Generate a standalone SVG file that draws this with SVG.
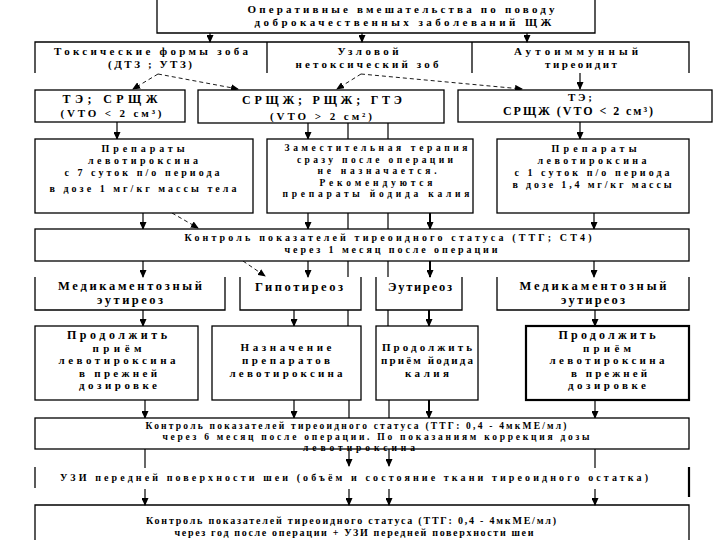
<svg xmlns="http://www.w3.org/2000/svg" width="720" height="540" viewBox="0 0 720 540">
<style>
text{font-family:"Liberation Serif","Times New Roman",serif;font-weight:bold;text-anchor:middle;fill:#000}
.s9{font-size:9.5px}.s10{font-size:10px}.s11{font-size:11px}.s12{font-size:12px}.s13{font-size:12.5px}
.n{fill:#fff;stroke:#000;stroke-width:1.3}
.o{fill:none;stroke:#000;stroke-width:1.3}
.th{stroke-width:2.2}
.c{stroke:#000;stroke-width:1.2;fill:none}
.a{marker-end:url(#ah)}
.d{stroke-dasharray:4 3;stroke-width:0.9;marker-end:url(#ah)}
.k{stroke-width:2}
</style>
<defs>
<marker id="ah" markerWidth="8" markerHeight="7" refX="7" refY="3.5" orient="auto" markerUnits="userSpaceOnUse">
<path d="M0,0 L8,3.5 L0,7 Z" fill="#000"/>
</marker>
</defs>
<rect width="720" height="540" fill="#fff"/>

<g id="connectors">
<line class="c a" x1="210" y1="33" x2="210" y2="42"/>
<line class="c a" x1="362" y1="33" x2="362" y2="42"/>
<line class="c a" x1="527" y1="33" x2="527" y2="42"/>
<line class="c d" x1="158" y1="74" x2="133" y2="89"/>
<line class="c d" x1="158" y1="74" x2="238" y2="89"/>
<line class="c d" x1="361" y1="74" x2="337" y2="89"/>
<line class="c d" x1="361" y1="74" x2="522" y2="89"/>
<line class="c a" x1="580" y1="73" x2="580" y2="89"/>
<line class="c a" x1="117" y1="122" x2="117" y2="139"/>
<line class="c a" x1="308" y1="123" x2="308" y2="139"/>
<line class="c" x1="348" y1="123" x2="348" y2="139"/>
<line class="c" x1="388" y1="123" x2="388" y2="139"/>
<line class="c a" x1="580" y1="122" x2="580" y2="139"/>
<line class="c a" x1="143" y1="213" x2="143" y2="229"/>
<line class="c d" x1="172" y1="213" x2="198" y2="228"/>
<line class="c a" x1="308" y1="213" x2="308" y2="229"/>
<line class="c" x1="348" y1="213" x2="348" y2="229"/>
<line class="c" x1="388" y1="213" x2="388" y2="229"/>
<line class="c a k" x1="430" y1="213" x2="430" y2="229"/>
<line class="c a" x1="594" y1="213" x2="594" y2="229"/>
<line class="c a" x1="143" y1="261" x2="143" y2="277"/>
<line class="c d" x1="243" y1="261" x2="265" y2="276"/>
<line class="c a" x1="308" y1="261" x2="308" y2="277"/>
<line class="c" x1="348" y1="261" x2="348" y2="277"/>
<line class="c" x1="388" y1="261" x2="388" y2="277"/>
<line class="c a k" x1="430" y1="261" x2="430" y2="277"/>
<line class="c a" x1="594" y1="261" x2="594" y2="277"/>
<line class="c a" x1="143" y1="310" x2="143" y2="326"/>
<line class="c a" x1="294" y1="310" x2="294" y2="326"/>
<line class="c" x1="348" y1="310" x2="348" y2="326"/>
<line class="c" x1="388" y1="310" x2="388" y2="326"/>
<line class="c a k" x1="429" y1="310" x2="429" y2="326"/>
<line class="c a" x1="595" y1="310" x2="595" y2="326"/>
<line class="c a" x1="145" y1="400" x2="145" y2="418"/>
<line class="c a" x1="294" y1="400" x2="294" y2="418"/>
<line class="c" x1="349" y1="400" x2="349" y2="418"/>
<line class="c" x1="389" y1="400" x2="389" y2="418"/>
<line class="c a k" x1="429" y1="400" x2="429" y2="418"/>
<line class="c a" x1="595" y1="400" x2="595" y2="418"/>
<line class="c" x1="145" y1="449" x2="145" y2="468"/>
<line class="c a" x1="349" y1="449" x2="349" y2="466"/>
<line class="c a" x1="389" y1="449" x2="389" y2="466"/>
<line class="c" x1="595" y1="449" x2="595" y2="468"/>
<line class="c a" x1="145" y1="489" x2="145" y2="505"/>
<line class="c a" x1="349" y1="489" x2="349" y2="505"/>
<line class="c a" x1="389" y1="489" x2="389" y2="505"/>
<line class="c a" x1="595" y1="489" x2="595" y2="505"/>
</g>

<g id="n-top">
<path class="o" d="M157,0 V33 H595 V0"/>
<text class="s11" x="401" y="13" textLength="307">Оперативные вмешательства по поводу</text>
<text class="s11" x="403" y="26" textLength="297">доброкачественных заболеваний ЩЖ</text>
</g>

<g id="n-row2">
<path class="o" d="M35,73 V42 H689 V73 M267,42 V73 M472,42 V73"/>
<text class="s11" x="151" y="55" textLength="194">Токсические формы зоба</text>
<text class="s11" x="150" y="68" textLength="84">(ДТЗ ; УТЗ)</text>
<text class="s11" x="368" y="55" textLength="61">Узловой</text>
<text class="s11" x="367" y="68" textLength="143">нетоксический зоб</text>
<text class="s11" x="576" y="55" textLength="124">Аутоиммунный</text>
<text class="s11" x="581" y="68" textLength="72">тиреоидит</text>
</g>

<g id="n-te-left">
<rect class="n" x="35" y="90" width="150" height="32"/>
<text class="s12" x="110" y="103" textLength="95">ТЭ; СРЩЖ</text>
<text class="s11" x="111" y="117" textLength="101">(VTO &lt; 2 см³)</text>
</g>
<g id="n-srshzh">
<rect class="n" x="198" y="90" width="246" height="33"/>
<text class="s12" x="322" y="104" textLength="160">СРЩЖ; РЩЖ; ГТЭ</text>
<text class="s11" x="321" y="120" textLength="102">(VTO &gt; 2 см²)</text>
</g>
<g id="n-te-right">
<rect class="n" x="458" y="90" width="254" height="32"/>
<text class="s11" x="580" y="101" textLength="24">ТЭ;</text>
<text class="s12" x="578" y="115" textLength="150">СРЩЖ (VTO &lt; 2 см³)</text>
</g>

<g id="n-prep-left">
<rect class="n" x="35" y="139" width="218" height="74"/>
<text class="s10" x="143" y="152" textLength="83">Препараты</text>
<text class="s10" x="143" y="164" textLength="110">левотироксина</text>
<text class="s10" x="142" y="176" textLength="155">с 7 суток п/о периода</text>
<text class="s10" x="143" y="192" textLength="187">в дозе 1 мг/кг массы тела</text>
</g>
<g id="n-zamest">
<rect class="n" x="267" y="139" width="206" height="74"/>
<text class="s9" x="376" y="151" textLength="183">Заместительная терапия</text>
<text class="s9" x="375" y="162.5" textLength="156">сразу после операции</text>
<text class="s9" x="377" y="174" textLength="119">не назначается.</text>
<text class="s9" x="376" y="185.5" textLength="113">Рекомендуются</text>
<text class="s9" x="376" y="197" textLength="187">препараты йодида калия</text>
</g>
<g id="n-prep-right">
<rect class="n" x="497" y="139" width="192" height="74"/>
<text class="s10" x="594" y="152" textLength="85">Препараты</text>
<text class="s10" x="592" y="164" textLength="109">левотироксина</text>
<text class="s10" x="592" y="176" textLength="155">с 1 суток п/о периода</text>
<text class="s10" x="592" y="188" textLength="159">в дозе 1,4 мг/кг массы</text>
</g>

<g id="n-control1">
<rect class="n" x="35" y="229" width="654" height="32"/>
<text class="s10" x="388" y="241" textLength="407">Контроль показателей тиреоидного статуса (ТТГ; СТ4)</text>
<text class="s10" x="391" y="253" textLength="213">через 1 месяц после операции</text>
</g>

<g id="n-med-left">
<path class="o" d="M35,277 V310 H225 V277"/>
<text class="s13" x="130" y="290" textLength="144">Медикаментозный</text>
<text class="s13" x="130" y="304" textLength="66">эутиреоз</text>
</g>
<g id="n-hypo">
<path class="o" d="M240,277 V310 H361 V277"/>
<text class="s13" x="299" y="291" textLength="88">Гипотиреоз</text>
</g>
<g id="n-eu">
<path class="o" d="M376,277 V310 H462 V277"/>
<text class="s13" x="420" y="291" textLength="64">Эутиреоз</text>
</g>
<g id="n-med-right">
<path class="o" d="M497,277 V310 H689 V277"/>
<text class="s13" x="593" y="290" textLength="147">Медикаментозный</text>
<text class="s13" x="593" y="304" textLength="64">эутиреоз</text>
</g>

<g id="n-cont-left">
<rect class="n" x="35" y="326" width="163" height="74"/>
<text class="s12" x="117" y="339" textLength="100">Продолжить</text>
<text class="s11" x="117" y="351.5" textLength="49">приём</text>
<text class="s11" x="117" y="364" textLength="117">левотироксина</text>
<text class="s11" x="118" y="376.5" textLength="78">в прежней</text>
<text class="s11" x="118" y="389" textLength="78">дозировке</text>
</g>
<g id="n-naznach">
<rect class="n" x="212" y="326" width="149" height="74"/>
<text class="s11" x="286" y="351" textLength="91">Назначение</text>
<text class="s11" x="286" y="364" textLength="88">препаратов</text>
<text class="s11" x="286" y="377" textLength="113">левотироксина</text>
</g>
<g id="n-cont-iod">
<rect class="n" x="376" y="326" width="102" height="74"/>
<text class="s11" x="427" y="351" textLength="90">Продолжить</text>
<text class="s11" x="427" y="364" textLength="92">приём йодида</text>
<text class="s11" x="427" y="377" textLength="44">калия</text>
</g>
<g id="n-cont-right">
<rect class="n th" x="526" y="326" width="163" height="74"/>
<text class="s12" x="607" y="339" textLength="97">Продолжить</text>
<text class="s11" x="607" y="351.5" textLength="48">приём</text>
<text class="s11" x="607" y="364" textLength="115">левотироксина</text>
<text class="s11" x="609" y="376.5" textLength="76">в прежней</text>
<text class="s11" x="607" y="389" textLength="78">дозировке</text>
</g>

<g id="n-control6">
<rect class="n" x="35" y="418" width="654" height="31"/>
<text class="s9" x="356" y="429" textLength="421">Контроль показателей тиреоидного статуса (ТТГ: 0,4 - 4мкМЕ/мл)</text>
<text class="s9" x="376" y="440" textLength="427">через 6 месяц после операции. По показаниям коррекция дозы</text>
<text class="s9" x="359" y="451" textLength="112">левотироксина</text>
</g>

<g id="n-uzi">
<path class="o" d="M35,467 V488"/>
<path class="o th" d="M689,467 V497"/>
<text class="s10" x="354" y="481" textLength="588">УЗИ передней поверхности шеи (объём и состояние ткани тиреоидного остатка)</text>
</g>

<g id="n-control12">
<path class="o" d="M35,540 V505 H689 V540"/>
<text class="s10" x="351" y="524" textLength="410">Контроль показателей тиреоидного статуса (ТТГ: 0,4 - 4мкМЕ/мл)</text>
<text class="s10" x="354" y="536" textLength="359">через год после операции + УЗИ передней поверхности шеи</text>
</g>
</svg>
